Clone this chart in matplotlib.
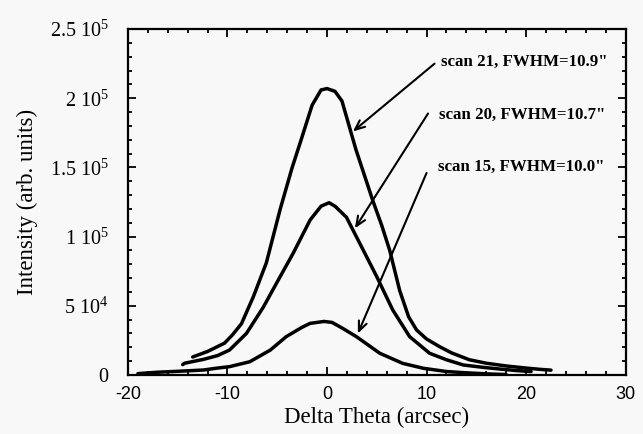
import matplotlib
matplotlib.use("Agg")
import matplotlib.pyplot as plt
from matplotlib.ticker import MultipleLocator, FixedLocator

# ---- data ----
x21 = [-13.5, -12.0, -10.3, -9.5, -8.6, -7.4, -6.1, -4.7, -3.5, -2.6, -1.5, -0.6, 0.0, 0.8, 1.5,
       2.9, 4.6, 5.5, 6.3, 7.3, 8.2, 9.0, 10.0, 11.3, 12.5, 14.3, 16.0, 18.0, 20.0, 21.5, 22.5]
y21 = [1.3e4, 1.7e4, 2.3e4, 2.9e4, 3.7e4, 5.66e4, 8.1e4, 12.0e4, 15.0e4, 17.0e4, 19.5e4, 20.6e4,
       20.7e4, 20.5e4, 19.8e4, 16.3e4, 12.6e4, 10.8e4, 9.0e4, 6.1e4, 4.2e4, 3.25e4, 2.6e4,
       2.05e4, 1.6e4, 1.1e4, 0.85e4, 0.65e4, 0.5e4, 0.4e4, 0.35e4]

x20 = [-14.5, -14.3, -12.4, -11.0, -9.8, -8.1, -6.4, -5.1, -3.4, -1.7, -0.6, 0.2, 0.8, 1.95,
       3.3, 5.0, 6.6, 8.3, 10.3, 12.0, 13.7, 15.7, 17.5, 19.0, 20.5]
y20 = [0.75e4, 0.85e4, 1.13e4, 1.4e4, 1.8e4, 3.0e4, 4.9e4, 6.6e4, 8.8e4, 11.2e4, 12.2e4, 12.45e4,
       12.2e4, 11.4e4, 9.5e4, 7.1e4, 4.7e4, 2.77e4, 1.57e4, 1.1e4, 0.72e4, 0.55e4, 0.42e4,
       0.32e4, 0.25e4]

x15 = [-19.0, -17.0, -15.8, -14.0, -12.4, -11.0, -9.8, -7.75, -5.7, -4.1, -2.5, -1.7, -0.3, 0.5,
       1.5, 2.95, 5.3, 7.6, 9.7, 12.0, 13.7, 16.0, 18.0]
y15 = [0.1e4, 0.2e4, 0.24e4, 0.3e4, 0.36e4, 0.5e4, 0.6e4, 0.96e4, 1.8e4, 2.77e4, 3.45e4, 3.73e4,
       3.87e4, 3.8e4, 3.4e4, 2.77e4, 1.57e4, 0.84e4, 0.48e4, 0.25e4, 0.17e4, 0.08e4, 0.03e4]

labels = ['scan 21, FWHM=10.9"', 'scan 20, FWHM=10.7"', 'scan 15, FWHM=10.0"']
label_xy = [(11.5, 22.6e4), (11.25, 18.8e4), (11.15, 15.05e4)]
arrow_tail = [(10.8, 22.5e4), (10.15, 18.9e4), (10.0, 14.6e4)]
arrow_head = [(2.6, 17.6e4), (2.8, 10.6e4), (3.1, 3.0e4)]

yticks = [0, 5e4, 1e5, 1.5e5, 2e5, 2.5e5]
yticklabels = ['0', r'5 10$^4$', r'1 10$^5$', r'1.5 10$^5$', r'2 10$^5$', r'2.5 10$^5$']
xticks = [-20, -10, 0, 10, 20, 30]

# ---- style ----
plt.rcParams['font.family'] = ['Liberation Serif', 'DejaVu Serif']
plt.rcParams['mathtext.fontset'] = 'custom'
plt.rcParams['mathtext.rm'] = 'Liberation Serif'
plt.rcParams['mathtext.it'] = 'Liberation Serif'

bg = '#f8f8f8'
fig = plt.figure(figsize=(6.43, 4.34), dpi=100, facecolor=bg)
ax = fig.add_axes([0.199, 0.136, 0.774, 0.797], facecolor=bg)

for xs, ys in [(x21, y21), (x20, y20), (x15, y15)]:
    ax.plot(xs, ys, color='black', lw=2.5, solid_joinstyle='round', solid_capstyle='round')

for lab, lxy, t, h in zip(labels, label_xy, arrow_tail, arrow_head):
    ax.annotate('', xy=h, xytext=t,
                arrowprops=dict(arrowstyle='->,head_length=0.7,head_width=0.3',
                                color='black', lw=1.5, shrinkA=0, shrinkB=0))
    ax.text(lxy[0], lxy[1], lab, fontsize=12.2, fontweight='bold', va='center', ha='left')

ax.set_xlim(-20, 30)
ax.set_ylim(0, 2.5e5)
ax.xaxis.set_major_locator(FixedLocator(xticks))
ax.xaxis.set_minor_locator(MultipleLocator(2))
ax.yaxis.set_major_locator(FixedLocator(yticks))
ax.yaxis.set_minor_locator(MultipleLocator(1e4))
ax.set_yticklabels(yticklabels, fontsize=14.5)
ax.set_xticklabels([str(v) for v in xticks], fontsize=13, family='Liberation Sans')

ax.tick_params(which='both', direction='in', top=True, right=True, width=1.3, color='black')
ax.tick_params(axis='y', which='major', length=6, pad=14)
ax.tick_params(axis='x', which='major', length=6, pad=8)
ax.tick_params(which='minor', length=3)
for s in ax.spines.values():
    s.set_linewidth(1.6)

ax.set_xlabel('Delta Theta (arcsec)', fontsize=16.5, labelpad=3)
ax.set_ylabel('Intensity (arb. units)', fontsize=16.5, labelpad=8)

fig.savefig('out.png', dpi=100, facecolor=bg)
